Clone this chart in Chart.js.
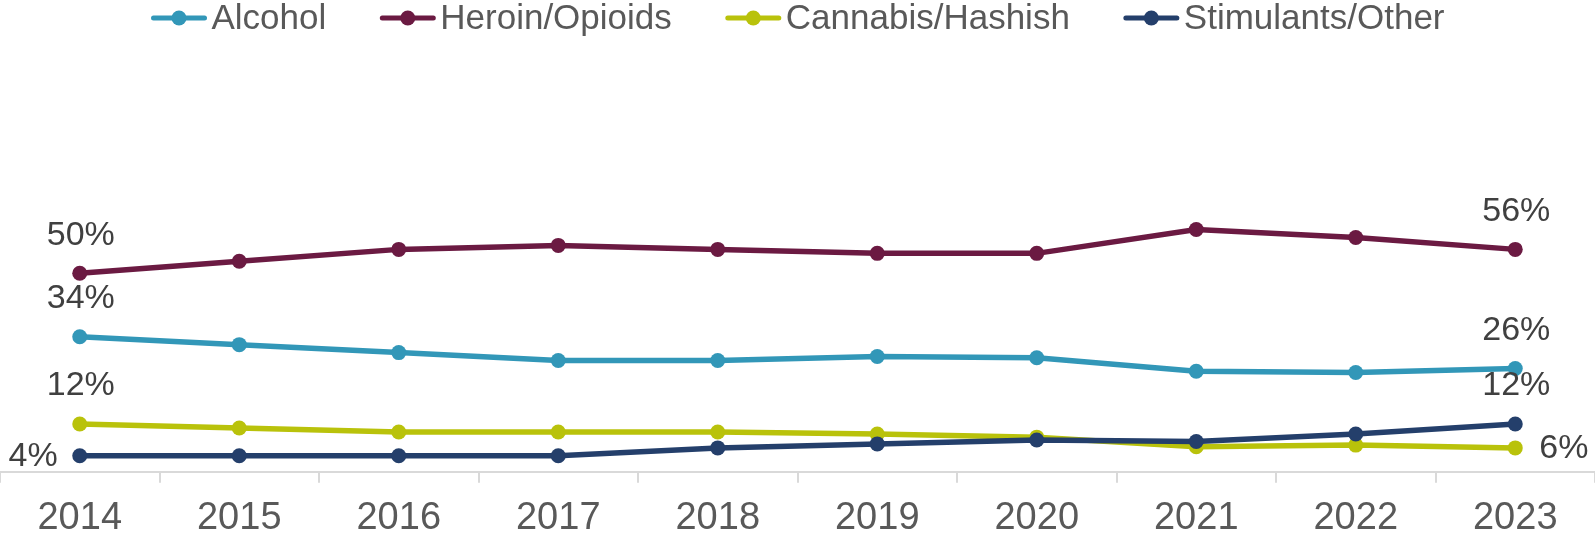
<!DOCTYPE html>
<html>
<head>
<meta charset="utf-8">
<script src="https://cdn.jsdelivr.net/npm/chart.js@4/dist/chart.umd.min.js"></script>
<style>
  html, body { margin: 0; padding: 0; background: #ffffff; }
  #wrap { width: 1595px; height: 534px; position: relative; }
</style>
</head>
<body>
<div id="wrap"><canvas id="c"></canvas></div>
<script>
const years = ['2014','2015','2016','2017','2018','2019','2020','2021','2022','2023'];
const seriesNames = ['Alcohol', 'Heroin/Opioids', 'Cannabis/Hashish', 'Stimulants/Other'];
const alcohol   = [34, 32, 30, 28, 28, 29, 28.7, 25.3, 25, 26];
const heroin    = [50, 53, 56, 57, 56, 55, 55, 61, 59, 56];
const cannabis  = [12, 11, 10, 10, 10, 9.5, 8.7, 6.3, 6.7, 6];
const stimulant = [4, 4, 4, 4, 6, 7, 8, 7.6, 9.5, 12];
const seriesColors = ['#3297b8', '#6b1a42', '#b9c20b', '#243f6b'];
// where the end labels sit: first point / last point
const firstLabelPos = ['above', 'above', 'above', 'left'];
const lastLabelPos  = ['above', 'above', 'right', 'above'];

const FONT = '"Liberation Sans", Arial, sans-serif';

const allData = [alcohol, heroin, cannabis, stimulant];
const drawOrder = [4, 3, 2, 1];

const datasets = allData.map((d, i) => ({
  label: seriesNames[i],
  data: d,
  borderColor: seriesColors[i],
  backgroundColor: seriesColors[i],
  pointBackgroundColor: seriesColors[i],
  pointBorderWidth: 0,
  pointRadius: 7.5,
  borderWidth: 5.5,
  tension: 0,
  order: drawOrder[i],
  clip: false
}));

const legendPlugin = {
  id: 'customLegend',
  afterDraw(chart) {
    const ctx = chart.ctx;
    ctx.save();
    ctx.font = '35px ' + FONT;
    const lineLen = 57, gapText = 4, gapItem = 53, cy = 18;
    const widths = seriesNames.map(n => ctx.measureText(n).width);
    let total = 0;
    widths.forEach((w, i) => { total += lineLen + gapText + w + (i < widths.length - 1 ? gapItem : 0); });
    let x = (chart.width - total) / 2;
    seriesNames.forEach((name, i) => {
      ctx.strokeStyle = seriesColors[i];
      ctx.fillStyle = seriesColors[i];
      ctx.lineWidth = 5;
      ctx.lineCap = 'round';
      ctx.beginPath();
      ctx.moveTo(x + 3, cy);
      ctx.lineTo(x + lineLen - 3, cy);
      ctx.stroke();
      ctx.beginPath();
      ctx.arc(x + lineLen / 2, cy, 7.5, 0, Math.PI * 2);
      ctx.fill();
      ctx.fillStyle = '#595959';
      ctx.textBaseline = 'middle';
      ctx.textAlign = 'left';
      ctx.fillText(name, x + lineLen + gapText, cy + 1);
      x += lineLen + gapText + widths[i] + gapItem;
    });
    ctx.restore();
  }
};

const endLabelPlugin = {
  id: 'endLabels',
  afterDatasetsDraw(chart) {
    const ctx = chart.ctx;
    ctx.save();
    ctx.font = '34px ' + FONT;
    ctx.fillStyle = '#404040';
    ctx.textBaseline = 'middle';
    chart.data.datasets.forEach((ds, i) => {
      const meta = chart.getDatasetMeta(i);
      const last = ds.data.length - 1;
      [[0, firstLabelPos[i]], [last, lastLabelPos[i]]].forEach(([idx, pos]) => {
        const pt = meta.data[idx];
        const txt = Math.round(ds.data[idx]) + '%';
        if (pos === 'above') {
          ctx.textAlign = 'center';
          ctx.fillText(txt, pt.x + 1, pt.y - 38);
        } else if (pos === 'left') {
          ctx.textAlign = 'right';
          ctx.fillText(txt, pt.x - 22, pt.y + 1);
        } else {
          ctx.textAlign = 'left';
          ctx.fillText(txt, pt.x + 24, pt.y + 1);
        }
      });
    });
    ctx.restore();
  }
};

new Chart(document.getElementById('c'), {
  type: 'line',
  data: { labels: years, datasets },
  plugins: [legendPlugin, endLabelPlugin],
  options: {
    responsive: true,
    maintainAspectRatio: false,
    animation: false,
    devicePixelRatio: 1,
    layout: { autoPadding: false, padding: { top: 74.7, left: 0, right: 0, bottom: 0 } },
    plugins: {
      legend: { display: false },
      tooltip: { enabled: false }
    },
    scales: {
      x: {
        offset: true,
        grid: {
          offset: true,
          display: true,
          drawOnChartArea: false,
          drawTicks: true,
          tickLength: 11,
          color: '#d9d9d9',
          lineWidth: 2
        },
        border: { display: true, color: '#d9d9d9', width: 2 },
        ticks: {
          color: '#595959',
          font: { family: FONT, size: 38 },
          padding: 13,
          maxRotation: 0,
          autoSkip: false
        },
        afterFit(scale) { scale.height = 62.3; }
      },
      y: {
        display: false,
        min: 0,
        max: 100
      }
    }
  }
});
</script>
</body>
</html>
